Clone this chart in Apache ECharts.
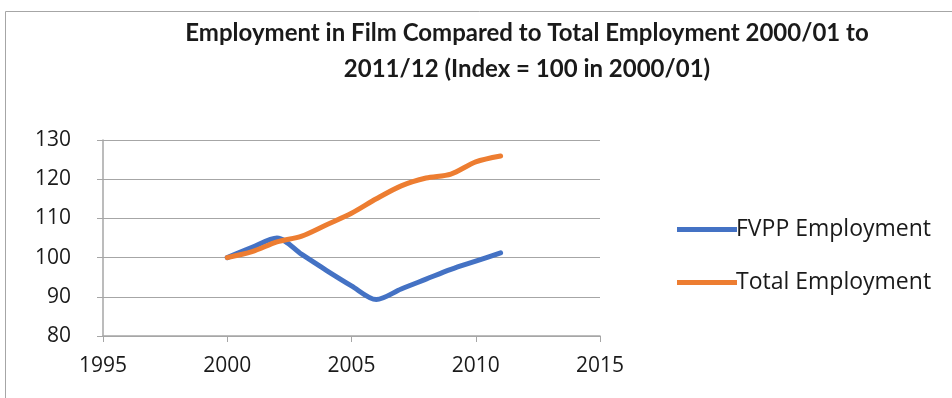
<!DOCTYPE html>
<html>
	<head>
		<meta charset="UTF-8">
		<title>Employment in Film</title>
		<script type="text/javascript" src="https://cdn.jsdelivr.net/npm/echarts@6/dist/echarts.min.js"></script>
		<style>
			html, body { margin: 0; padding: 0; background: #fff; }
			#chart1 { width: 952px; height: 398px; }
		</style>
	</head>
	<body>
		<div id="chart1"></div>
		<script type="text/javascript">
			// data
			var years = [2000, 2001, 2002, 2003, 2004, 2005, 2006, 2007, 2008, 2009, 2010, 2011];
			var fvppEmployment = [100, 102.6, 105, 100.8, 96.7, 92.8, 89.3, 92, 94.5, 97, 99.1, 101.2];
			var totalEmployment = [100, 101.5, 104, 105.5, 108.4, 111.3, 115, 118.3, 120.3, 121.3, 124.4, 125.9];
			var seriesNames = ['FVPP Employment', 'Total Employment'];

			function pairs(vals){
				return years.map(function(y, i){ return [y, vals[i]]; });
			}

			var myChart = echarts.init(document.getElementById('chart1'));
			var font = 'Open Sans';
			var option = {
				animation: false,
				title: {
					text: 'Employment in Film Compared to Total Employment 2000/01 to\n2011/12 (Index = 100 in 2000/01)',
					left: 522,
					top: 10,
					textAlign: 'center',
					textStyle: {
						fontFamily: 'Lato',
						fontWeight: 'bold',
						fontSize: 24,
						lineHeight: 36,
						color: '#1a1a1a'
					}
				},
				graphic: [{
					type: 'rect',
					shape: { x: 5.5, y: 11.5, width: 1000, height: 500 },
					style: { fill: 'none', stroke: '#a6a6a6', lineWidth: 1 },
					silent: true
				}],
				legend: {
					orient: 'vertical',
					left: 672,
					top: 213,
					itemGap: 30,
					itemWidth: 60,
					itemHeight: 5,
					icon: 'rect',
					textStyle: { fontFamily: font, fontSize: 23, color: '#1a1a1a', padding: [0, 0, 0, -6] },
					data: seriesNames
				},
				grid: { left: 103, right: 352, top: 140, bottom: 62 },
				xAxis: {
					type: 'value',
					min: 1995, max: 2015, interval: 5,
					axisLine: { show: true, lineStyle: { color: '#a6a6a6', width: 1.5 } },
					axisTick: { show: true, length: 6, lineStyle: { color: '#a6a6a6' } },
					axisLabel: { fontFamily: font, fontSize: 21, color: '#1a1a1a', margin: 20, formatter: function(v){ return String(v); } },
					splitLine: { show: false }
				},
				yAxis: {
					type: 'value',
					min: 80, max: 130, interval: 10,
					axisLine: { show: true, lineStyle: { color: '#a6a6a6', width: 1.5 } },
					axisTick: { show: true, length: 6, lineStyle: { color: '#a6a6a6' } },
					axisLabel: { fontFamily: font, fontSize: 21, color: '#1a1a1a', margin: 32 },
					splitLine: { show: true, lineStyle: { color: '#a6a6a6', width: 1.2 } }
				},
				series: [{
					name: seriesNames[0],
					type: 'line',
					data: pairs(fvppEmployment),
					smooth: 0.3,
					showSymbol: false,
					symbol: 'none',
					itemStyle: { color: '#4472c4' },
					lineStyle: { color: '#4472c4', width: 5, cap: 'round' }
				}, {
					name: seriesNames[1],
					type: 'line',
					data: pairs(totalEmployment),
					smooth: 0.3,
					showSymbol: false,
					symbol: 'none',
					itemStyle: { color: '#ed7d31' },
					lineStyle: { color: '#ed7d31', width: 5, cap: 'round' }
				}]
			};
			myChart.setOption(option);
		</script>
	</body>
</html>
